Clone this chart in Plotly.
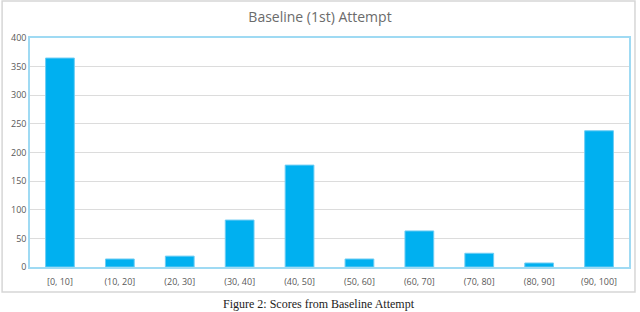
import plotly.graph_objects as go

categories = ["[0, 10]", "(10, 20]", "(20, 30]", "(30, 40]", "(40, 50]",
              "(50, 60]", "(60, 70]", "(70, 80]", "(80, 90]", "(90, 100]"]
counts = [365, 14, 19, 82, 178, 14, 63, 24, 7, 238]
y_ticks = [0, 50, 100, 150, 200, 250, 300, 350, 400]

W, H = 640, 312
L, R, T, B = 30, 9, 38, 45

fig = go.Figure(go.Bar(
    x=categories, y=counts,
    marker=dict(color="#00b0f0", line=dict(color="#6fcdf4", width=1)),
))

fig.update_layout(
    width=W, height=H,
    margin=dict(l=L, r=R, t=T, b=B),
    paper_bgcolor="white", plot_bgcolor="white",
    bargap=0.52,
    showlegend=False,
    title=dict(text="Baseline (1st) Attempt", x=0.5, xanchor="center",
               y=1 - 17 / H, yanchor="middle",
               font=dict(family="Open Sans", size=14, color="#6b6b6b")),
    font=dict(family="Open Sans", size=9, color="#595959"),
)
fig.update_xaxes(showline=True, linecolor="#9fdaf3", linewidth=1.5, mirror=True,
                 ticks="", tickfont=dict(size=9, color="#595959"), showgrid=False,
                 ticklabelstandoff=5)
fig.update_yaxes(range=[0, 400], tickvals=y_ticks, showline=True, linecolor="#9fdaf3",
                 linewidth=1.5, mirror=True, gridcolor="#dcdcdc", gridwidth=1,
                 ticks="", tickfont=dict(size=9, color="#595959"), zeroline=False)

# outer chart frame (paper coords relative to plot area)
pw, ph = W - L - R, H - T - B
def px_x(x): return (x - L) / pw
def px_y(y): return (H - B - y) / ph
fig.add_shape(type="rect", xref="paper", yref="paper",
              x0=px_x(2), x1=px_x(637), y0=px_y(292), y1=px_y(1),
              line=dict(color="#d6d6d6", width=1.5), fillcolor="rgba(0,0,0,0)", layer="above")

fig.add_annotation(text="Figure 2: Scores from Baseline Attempt", xref="paper", yref="paper",
                   x=px_x(320), y=px_y(304), xanchor="center", yanchor="middle",
                   showarrow=False, font=dict(family="Liberation Serif", size=12, color="#222222"))

fig.write_html("out.html", post_script="document.body.style.margin='0';",
               config={"displayModeBar": False})
